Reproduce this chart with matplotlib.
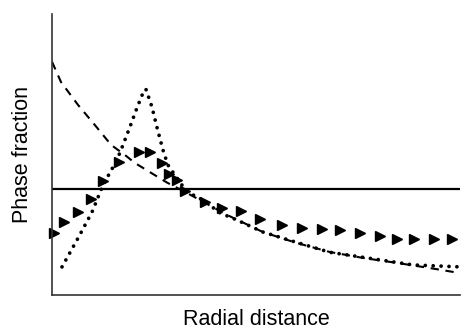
import matplotlib.pyplot as plt

# triangles (radial distance, phase fraction)
tri_x = [0.05, 0.29, 0.64, 0.96, 1.25, 1.64, 2.13, 2.40, 2.70, 2.87, 3.06, 3.26, 3.75,
         4.17, 4.63, 5.10, 5.64, 6.13, 6.62, 7.06, 7.55, 8.04, 8.46, 8.87, 9.36, 9.80]
tri_y = [0.22, 0.26, 0.295, 0.34, 0.405, 0.475, 0.51, 0.51, 0.47, 0.43, 0.41, 0.37, 0.33,
         0.31, 0.30, 0.27, 0.25, 0.24, 0.235, 0.23, 0.22, 0.21, 0.20, 0.20, 0.20, 0.20]

# dashed curve
dash_x = [0.0, 0.22, 0.64, 1.05, 1.45, 1.79, 2.03, 2.82, 3.31, 4.29, 5.17, 6.00, 6.81, 7.62, 8.46, 9.26, 10.0]
dash_y = [0.83, 0.758, 0.676, 0.605, 0.534, 0.498, 0.47, 0.40, 0.363, 0.285, 0.224, 0.185, 0.153, 0.132, 0.114, 0.096, 0.078]

# dotted curve
dot_x = [0.245, 0.64, 0.98, 1.25, 1.59, 1.74, 1.91, 2.08, 2.21, 2.30, 2.45, 2.57, 2.72,
         2.84, 3.14, 3.31, 3.70, 4.12, 4.53, 5.17, 6.00, 6.81, 8.04, 8.85, 10.0]
dot_y = [0.10, 0.203, 0.295, 0.391, 0.48, 0.534, 0.598, 0.665, 0.712, 0.733, 0.669, 0.598, 0.516,
         0.463, 0.40, 0.367, 0.338, 0.292, 0.267, 0.224, 0.187, 0.152, 0.125, 0.107, 0.10]

# solid constant line
const_y = 0.378

plt.rcParams['font.family'] = ['Liberation Sans', 'DejaVu Sans']

fig = plt.figure(figsize=(4.64, 3.31), dpi=100)
ax = fig.add_axes([52 / 464, 36 / 331, 408 / 464, 281 / 331])

ax.axhline(const_y, color='black', lw=1.6)
ax.plot(dash_x, dash_y, color='black', lw=1.5, linestyle=(0, (4, 3.2)))
ax.plot(dot_x, dot_y, color='black', lw=2.7, linestyle=(0, (0.01, 2.1)), dash_capstyle='round')
ax.plot(tri_x, tri_y, linestyle='none', marker='>', color='black', markersize=7.5, clip_on=False)

ax.set_xlim(0, 10)
ax.set_ylim(0, 1)
ax.set_xticks([])
ax.set_yticks([])
for s in ['top', 'right']:
    ax.spines[s].set_visible(False)
for s in ['left', 'bottom']:
    ax.spines[s].set_color('#333333')
    ax.spines[s].set_linewidth(1.2)

ax.set_xlabel('Radial distance', fontsize=15.5, labelpad=10)
ax.set_ylabel('Phase fraction', fontsize=15.5, labelpad=14)

plt.savefig('out.png')
